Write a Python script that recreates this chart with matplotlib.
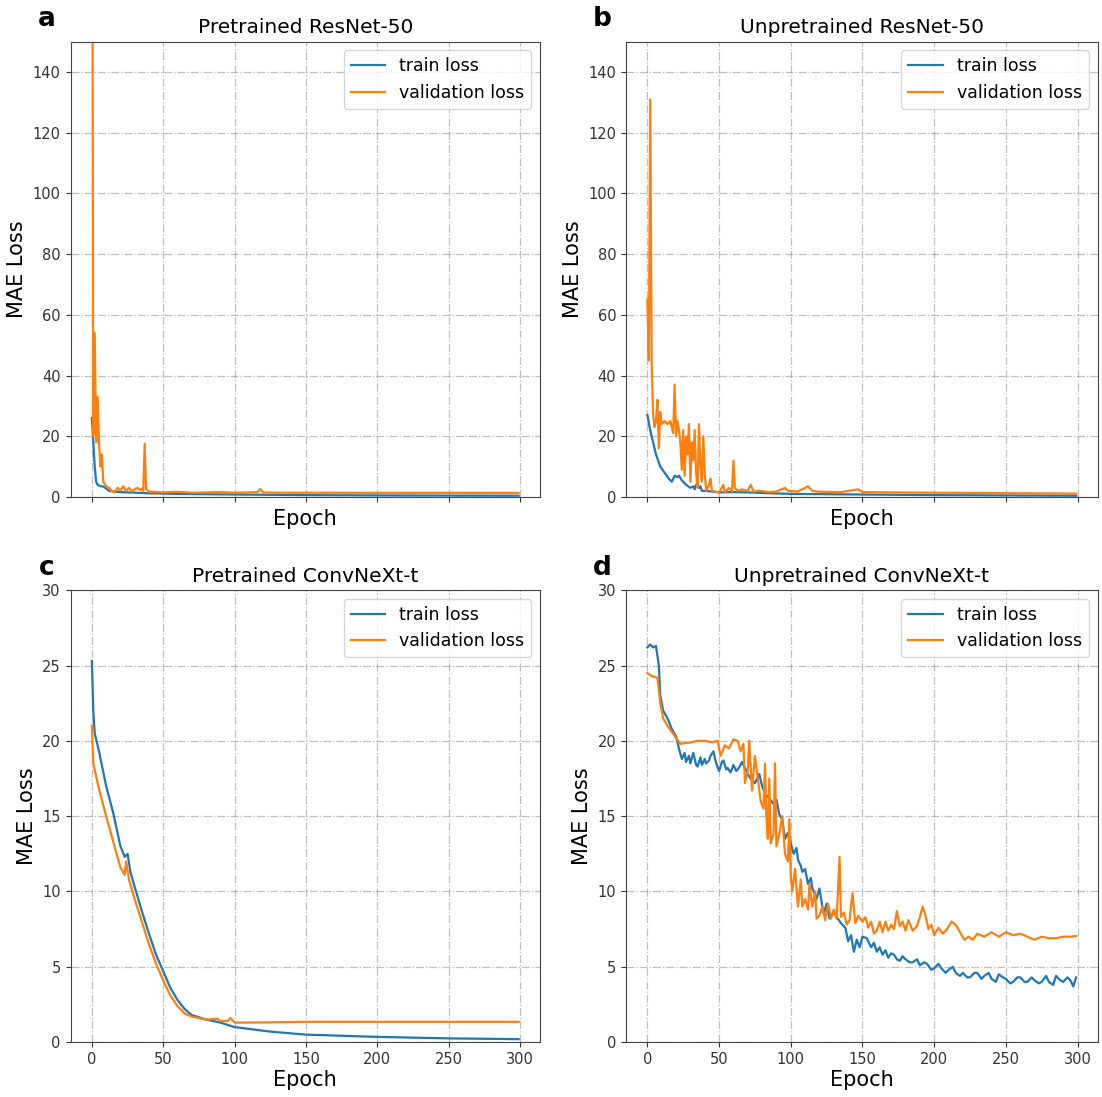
"""Training curves (MAE loss) for ResNet-50 and ConvNeXt-t, pretrained vs unpretrained."""

import matplotlib

matplotlib.use("Agg")
import matplotlib.pyplot as plt

TRAIN_COLOR = "#1f77b4"
VAL_COLOR = "#ff7f0e"

# (a) pretrained ResNet-50
a_train_ep = [0, 1, 2, 3, 4, 6, 8, 10, 12, 15, 20, 25, 30, 35, 40, 50, 60, 80, 100, 150, 200, 250, 299]
a_train = [26, 18, 10, 5, 4, 3.6, 3.4, 2.8, 2.0, 1.8, 1.6, 1.5, 1.4, 1.3, 1.2, 1.1, 1.0, 0.9, 0.8, 0.6, 0.5, 0.45, 0.4]
a_val_ep = [0, 1, 2, 3, 4, 5, 6, 7, 8, 10, 12, 14, 16, 18, 20, 22, 24, 26, 28, 30, 32, 34, 35, 36, 37,
            38, 40, 45, 50, 60, 70, 80, 90, 100, 110, 116, 118, 120, 130, 150, 200, 250, 299]
a_val = [300, 20, 54, 18, 33, 18, 10, 14, 5, 3.5, 3.0, 2.0, 1.5, 3.0, 2.2, 3.5, 2.0, 3.0, 1.8, 2.5, 3.0, 2.2, 2.8, 2.0, 17.5,
         2.5, 1.8, 1.6, 1.5, 1.7, 1.4, 1.5, 1.6, 1.4, 1.5, 1.6, 2.6, 1.5, 1.4, 1.4, 1.35, 1.35, 1.3]

# (b) unpretrained ResNet-50
b_train_ep = [0, 2, 4, 6, 9, 12, 15, 17, 19, 21, 22, 24, 27, 30, 32, 33, 34, 36, 37, 38, 40, 45, 50, 60, 70,
              80, 100, 125, 150, 200, 250, 299]
b_train = [27, 22, 18, 14, 10, 8, 6, 5, 7, 6.5, 7, 5.5, 4, 3, 3.5, 2.5, 4, 3, 3.5, 2, 2, 1.8, 1.5, 1.6, 1.5,
           1.3, 1.0, 0.9, 0.8, 0.6, 0.5, 0.4]
b_val_ep = [0, 1, 2, 3, 4, 5, 6, 7, 8, 9, 10, 12, 14, 16, 18, 19, 20, 21, 22, 23, 24, 25, 26, 27, 28, 29, 30,
            31, 32, 33, 34, 35, 36, 37, 38, 39, 40, 41, 43, 44, 45, 47, 50, 53, 54, 57, 59, 60, 61, 63, 66,
            70, 72, 74, 78, 85, 90, 96, 98, 105, 112, 115, 120, 135, 147, 150, 170, 200, 230, 260, 299]
b_val = [65, 45, 131, 44, 27, 23, 25, 32, 16, 28, 24, 25, 24, 25, 21, 37, 20, 25, 22, 18, 9, 22, 7, 20, 14, 24, 5,
         18, 12, 22, 8, 3, 24, 10, 5, 20, 8, 2, 4, 6, 2, 1.8, 1.5, 4, 1.5, 3, 1.8, 12, 3, 2, 2.5,
         2.0, 4, 1.8, 2.0, 1.6, 1.8, 3, 2.0, 1.8, 3.5, 2.0, 1.7, 1.6, 2.5, 1.6, 1.5, 1.4, 1.3, 1.2, 1.1]

# (c) pretrained ConvNeXt-t
c_train_ep = [0, 1, 2, 5, 10, 15, 20, 23, 25, 27, 30, 35, 40, 45, 50, 55, 60, 65, 70, 80, 90, 100,
              125, 150, 200, 250, 299]
c_train = [25.3, 22, 20.5, 19.3, 17, 15.2, 13, 12.3, 12.5, 11.3, 10.3, 8.7, 7.2, 5.8, 4.7, 3.6, 2.8, 2.2, 1.8,
           1.5, 1.3, 1.0, 0.7, 0.5, 0.35, 0.25, 0.2]
c_val_ep = [0, 1, 5, 10, 15, 20, 23, 24, 26, 30, 35, 40, 45, 50, 55, 60, 65, 70, 80, 88, 90, 95, 97, 100,
            110, 150, 200, 250, 299]
c_val = [21, 18.5, 16.8, 15, 13.3, 11.6, 11.1, 12, 10.8, 9.5, 8, 6.5, 5.2, 4.1, 3.1, 2.4, 1.9, 1.7, 1.5, 1.55,
         1.4, 1.4, 1.6, 1.3, 1.3, 1.35, 1.35, 1.35, 1.35]

# (d) unpretrained ConvNeXt-t, as (epoch, loss) pairs
d_train_pts = [
    (0, 26.2), (2, 26.4), (4, 26.2), (6, 26.3), (8, 25.0), (9, 23.0), (11, 22.0), (14, 21.5), (17, 20.8),
    (20, 20.3), (22, 19.5), (24, 18.8), (26, 19.2), (27, 18.6), (29, 19.0), (30, 18.5), (32, 19.2),
    (34, 18.4), (35, 18.3), (37, 18.9), (38, 18.4), (40, 18.8), (41, 18.5), (43, 18.7), (44, 19.0),
    (46, 19.3), (48, 18.5), (50, 18.0), (52, 18.6), (53, 18.7), (55, 18.1), (56, 18.2), (58, 17.9),
    (60, 18.4), (62, 18.0), (63, 18.1), (65, 18.4), (66, 18.6), (68, 18.2), (70, 17.8), (72, 17.5),
    (75, 17.2), (78, 17.8), (80, 17.0), (82, 16.5), (85, 16.2), (88, 15.8), (90, 16.1), (92, 15.1),
    (94, 14.8), (96, 13.5), (98, 13.9), (100, 13.2), (102, 12.5), (104, 12.9), (105, 12.1), (107, 11.7),
    (108, 11.3), (110, 11.5), (112, 10.5), (114, 10.9), (115, 10.2), (117, 9.8), (118, 9.5), (120, 10.2),
    (122, 9.0), (123, 8.5), (125, 9.2), (127, 8.2), (130, 8.6), (132, 8.3), (135, 7.9), (138, 7.6),
    (140, 6.7), (142, 7.1), (144, 6.0), (146, 6.8), (148, 6.3), (150, 7.0), (153, 6.9), (156, 6.3),
    (158, 6.6), (160, 6.0), (162, 6.3), (164, 5.8), (166, 6.1), (168, 5.6), (170, 5.9), (172, 5.8),
    (174, 5.5), (176, 5.4), (178, 5.7), (180, 5.5), (183, 5.3), (185, 5.3), (188, 5.5), (190, 5.1),
    (193, 5.3), (195, 5.2), (198, 4.8), (200, 4.9), (203, 5.2), (205, 4.9), (208, 4.6), (210, 4.8),
    (213, 5.0), (215, 4.6), (218, 4.4), (220, 4.6), (223, 4.3), (225, 4.3), (228, 4.6), (230, 4.6),
    (233, 4.2), (235, 4.4), (238, 4.6), (240, 4.2), (243, 4.0), (245, 4.5), (248, 4.3), (250, 4.2),
    (253, 3.9), (255, 4.0), (258, 4.3), (260, 4.3), (263, 4.0), (265, 4.0), (268, 4.3), (270, 4.1),
    (273, 3.9), (275, 4.0), (278, 4.4), (280, 4.0), (283, 3.8), (285, 4.4), (288, 4.1), (290, 4.0),
    (293, 4.3), (295, 4.1), (297, 3.7), (299, 4.3),
]
d_val_pts = [
    (0, 24.5), (3, 24.3), (7, 24.2), (9, 22.5), (11, 21.5), (14, 21.0), (17, 20.6), (20, 20.2), (23, 19.8),
    (30, 19.9), (35, 20.0), (40, 20.0), (45, 19.9), (49, 20.0), (51, 19.0), (54, 19.7), (57, 19.5),
    (60, 20.1), (63, 20.0), (65, 19.3), (67, 19.8), (68, 17.2), (70, 18.0), (71, 20.0), (73, 16.7),
    (75, 19.0), (77, 17.5), (79, 16.0), (81, 15.5), (82, 18.5), (83, 15.0), (84, 13.5), (85, 17.5),
    (86, 13.2), (88, 13.8), (89, 18.5), (90, 13.0), (92, 13.8), (94, 15.0), (96, 12.5), (98, 12.0),
    (99, 14.8), (100, 11.0), (101, 10.0), (103, 11.5), (105, 9.0), (107, 10.8), (108, 9.0), (110, 9.5),
    (112, 8.8), (113, 10.5), (115, 9.0), (117, 10.0), (118, 8.2), (120, 8.4), (122, 9.0), (124, 8.1),
    (126, 9.2), (128, 8.2), (130, 8.8), (132, 8.2), (134, 12.3), (135, 8.3), (137, 8.6), (139, 7.8),
    (141, 8.1), (143, 9.9), (145, 7.9), (147, 8.4), (150, 8.0), (152, 8.3), (154, 7.6), (156, 8.0),
    (158, 7.2), (160, 7.4), (162, 8.0), (164, 7.3), (166, 8.0), (168, 7.4), (170, 7.8), (172, 7.5),
    (174, 8.7), (176, 7.7), (178, 8.0), (180, 7.4), (182, 8.1), (185, 7.4), (188, 7.7), (190, 8.3),
    (192, 9.0), (194, 8.4), (196, 7.5), (198, 7.8), (200, 7.1), (203, 7.6), (206, 7.2), (209, 7.5),
    (212, 8.0), (215, 7.8), (218, 7.3), (221, 6.8), (224, 7.0), (227, 6.8), (230, 7.2), (235, 7.0),
    (240, 7.3), (245, 7.0), (250, 7.3), (255, 7.1), (260, 7.2), (265, 7.0), (270, 6.8), (275, 7.0),
    (280, 6.9), (285, 6.9), (290, 7.0), (295, 7.0), (299, 7.05),
]
d_train_ep, d_train = zip(*d_train_pts)
d_val_ep, d_val = zip(*d_val_pts)

PANELS = [
    ("a", "Pretrained ResNet-50", a_train_ep, a_train, a_val_ep, a_val, 150, range(0, 141, 20)),
    ("b", "Unpretrained ResNet-50", b_train_ep, b_train, b_val_ep, b_val, 150, range(0, 141, 20)),
    ("c", "Pretrained ConvNeXt-t", c_train_ep, c_train, c_val_ep, c_val, 30, range(0, 31, 5)),
    ("d", "Unpretrained ConvNeXt-t", d_train_ep, d_train, d_val_ep, d_val, 30, range(0, 31, 5)),
]

# axes boxes in figure fraction: left, bottom, width, height
BOXES = [
    (0.064, 0.547, 0.426, 0.415),
    (0.568, 0.547, 0.428, 0.415),
    (0.064, 0.050, 0.426, 0.412),
    (0.568, 0.050, 0.428, 0.412),
]

fig = plt.figure(figsize=(11.02, 10.97), dpi=100)

for i, (tag, title, tr_x, tr_y, va_x, va_y, ymax, yticks) in enumerate(PANELS):
    assert len(tr_x) == len(tr_y) and len(va_x) == len(va_y), tag
    ax = fig.add_axes(BOXES[i])
    ax.plot(tr_x, tr_y, color=TRAIN_COLOR, lw=1.6, label="train loss")
    ax.plot(va_x, va_y, color=VAL_COLOR, lw=1.6, label="validation loss")
    ax.set_xlim(-14.95, 313.95)
    ax.set_ylim(0, ymax)
    ax.set_xticks(range(0, 301, 50))
    ax.set_yticks(list(yticks))
    if i < 2:
        ax.set_xticklabels([])
    ax.tick_params(labelsize=10.5, colors="#333333")
    ax.grid(True, linestyle="-.", color="gray", alpha=0.5, lw=0.9)
    ax.set_title(title, fontsize=14.5, pad=6)
    ax.set_xlabel("Epoch", fontsize=15, labelpad=2)
    ax.set_ylabel("MAE Loss", fontsize=15)
    ax.legend(loc="upper right", fontsize=12.5)
    for s in ax.spines.values():
        s.set_color("#444444")
    ax.text(-0.05, 1.05, tag, transform=ax.transAxes, fontsize=19, fontweight="bold",
            ha="center", va="center")

fig.savefig("out.png", dpi=100)
